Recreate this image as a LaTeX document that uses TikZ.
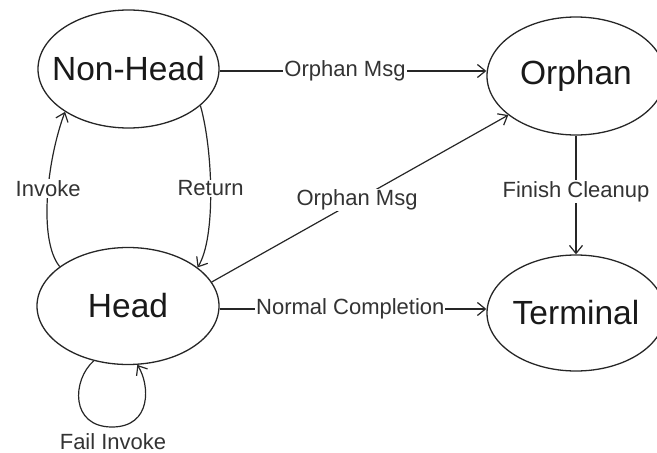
\documentclass[tikz,border=0pt]{standalone}
\usepackage{fontspec}
\setmainfont{Liberation Sans}
\usetikzlibrary{arrows.meta,shapes.geometric,calc}

\begin{document}
\begin{tikzpicture}[x=1pt,y=-1pt,
  state/.style={draw=black!85, line width=1.3pt, ellipse, inner sep=0pt, minimum width=#1},
  mainlbl/.style={inner sep=0pt, text=black!90, font=\fontsize{33.5}{40}\selectfont},
  lbl/.style={fill=white, inner sep=1pt, text=black!80, font=\fontsize{22}{26}\selectfont},
  freelbl/.style={inner sep=0pt, text=black!80, font=\fontsize{22}{26}\selectfont},
  arr/.style={draw=black!85, line width=1.2pt, -{Straight Barb[length=8pt,width=13pt]}}
]
\useasboundingbox (0,0) rectangle (657,453);
\clip (0,0) rectangle (657,453);

% states
\node[state=181pt, minimum height=118pt, label={[mainlbl]center:Non-Head}] (NH) at (128.5,69) {};
\node[state=182pt, minimum height=117pt, label={[mainlbl]center:Head}] (Head) at (128,306) {};
\node[state=178pt, minimum height=118pt, label={[mainlbl]center:Orphan}] (Orphan) at (576,76) {};
\node[state=178pt, minimum height=116pt, label={[mainlbl]center:Terminal}] (Terminal) at (576,313) {};

% horizontal transitions
\path (NH.east) ++(0,2) coordinate (nhout);
\draw[arr] (nhout) -- node[lbl,pos=0.47] (l1) {Orphan Msg} (nhout -| Orphan.west);

\path (Head.east) ++(0,3) coordinate (hdout);
\draw[arr] (hdout) -- node[lbl,pos=0.49] (l2) {Normal Completion} (hdout -| Terminal.west);

% cleanup
\draw[arr] (Orphan.south) -- node[lbl,pos=0.47] (l3) {Finish Cleanup} (Terminal.north);

% head to orphan
\draw[arr] (Head.16) -- node[lbl,pos=0.49] (l4) {Orphan Msg} (Orphan.210);

% invoke / return
\draw[arr] (Head.150) .. controls (38,240) and (47,160) .. node[lbl,pos=0.55] (l5) {Invoke} (NH.214);
\draw[arr] (NH.333) .. controls (213,150) and (216,238) .. node[lbl,pos=0.48] (l6) {Return} (Head.29);

% self loop
\draw[arr] (Head.238) .. controls (72,380) and (70,427) .. (112,427)
  .. controls (152,427) and (150,385) .. (Head.279);
\node[freelbl] (l7) at (113,441.5) {Fail Invoke};
\end{tikzpicture}
\end{document}
